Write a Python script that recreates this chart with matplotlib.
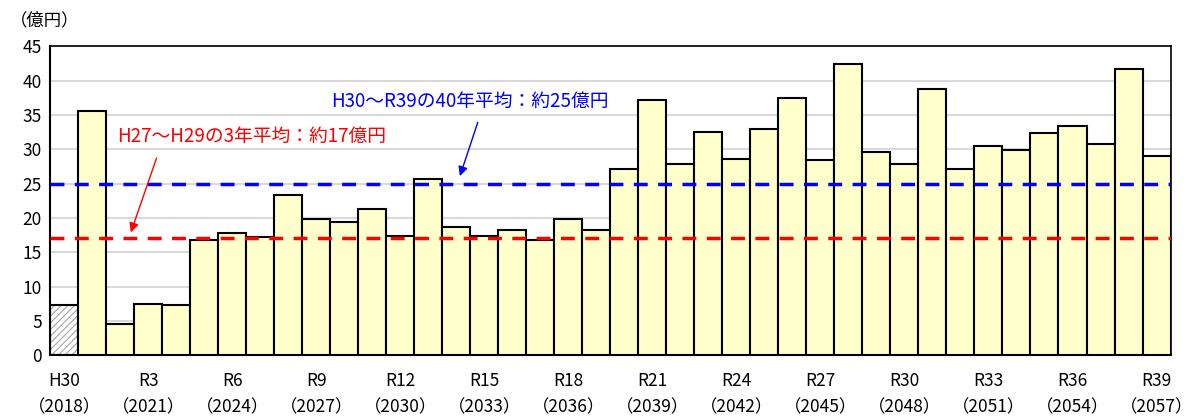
import matplotlib.pyplot as plt
import numpy as np

plt.rcParams["font.family"] = ["Noto Sans CJK JP", "DejaVu Sans"]
plt.rcParams["hatch.linewidth"] = 0.8

# 年度ラベル（3年おき）
era_labels = [
    "H30", "R3", "R6", "R9", "R12", "R15", "R18",
    "R21", "R24", "R27", "R30", "R33", "R36", "R39"
]
year_labels = [
    "2018", "2021", "2024", "2027", "2030", "2033", "2036",
    "2039", "2042", "2045", "2048", "2051", "2054", "2057"
]

# 実績（H30）
actual_values = [7.3]

# 見込み（R1〜R39）
forecast_values = [
    35.5, 4.6, 7.5, 7.3, 16.8, 17.8, 17.2, 23.4, 19.8, 19.4,
    21.3, 17.4, 25.6, 18.7, 17.4, 18.3, 16.8, 19.8, 18.3, 27.1,
    37.2, 27.9, 32.5, 28.6, 32.9, 37.4, 28.4, 42.4, 29.6, 27.9,
    38.7, 27.1, 30.4, 29.9, 32.3, 33.4, 30.8, 41.7, 29.0
]

avg_40 = 25
avg_3 = 17

label_40 = "H30～R39の40年平均：約25億円"
label_3 = "H27～H29の3年平均：約17億円"


fig = plt.figure(
    figsize=(11.92, 4.16),
    dpi=100
)
ax = fig.add_axes([0.042, 0.146, 0.940, 0.743])

n_actual = len(actual_values)
x_actual = np.arange(n_actual)
x_forecast = np.arange(n_actual, n_actual + len(forecast_values))

ax.bar(
    x_actual,
    actual_values,
    width=1.0,
    color="white",
    edgecolor="#A6A6A6",
    hatch="/////",
    linewidth=0,
    zorder=2
)
ax.bar(
    x_actual,
    actual_values,
    width=1.0,
    color="none",
    edgecolor="black",
    linewidth=1.5,
    zorder=3
)
ax.bar(
    x_forecast,
    forecast_values,
    width=1.0,
    color="#FFFFCC",
    edgecolor="black",
    linewidth=1.5,
    zorder=3
)

ax.axhline(avg_40, color="#0000FF", lw=2.5, ls=(0, (4, 3)), zorder=4)
ax.axhline(avg_3, color="#FF0000", lw=2.5, ls=(0, (4, 3)), zorder=4)

ax.annotate(
    label_40,
    xy=(14.1, 25.7),
    xytext=(14.5, 37.0),
    color="#0000FF",
    fontsize=13.5,
    ha="center",
    va="center",
    arrowprops=dict(
        arrowstyle="-|>",
        color="#0000FF",
        lw=1,
        mutation_scale=14,
        shrinkA=6,
        relpos=(0.54, 0)
    ),
    zorder=5
)
ax.annotate(
    label_3,
    xy=(2.35, 17.5),
    xytext=(6.7, 31.8),
    color="#FF0000",
    fontsize=13.5,
    ha="center",
    va="center",
    arrowprops=dict(
        arrowstyle="-|>",
        color="#FF0000",
        lw=1,
        mutation_scale=14,
        shrinkA=6,
        relpos=(0.16, 0)
    ),
    zorder=5
)

ax.set_xlim(-0.5, n_actual + len(forecast_values) - 0.5)
ax.set_ylim(0, 45)
ax.set_yticks(np.arange(0, 46, 5))
ax.yaxis.grid(True, color="#D9D9D9", lw=1.5, zorder=0)
ax.set_axisbelow(True)

tick_pos = np.arange(0, n_actual + len(forecast_values), 3)
ax.set_xticks(tick_pos)
ax.set_xticklabels(
    [f"{e}\n（{y}）" for e, y in zip(era_labels, year_labels)],
    fontsize=12.5,
    linespacing=1.6
)
ax.tick_params(axis="y", labelsize=12.5, length=0, pad=6)
ax.tick_params(axis="x", length=0, pad=12)

for side in ["top", "right", "left", "bottom"]:
    ax.spines[side].set_color("black")
ax.spines["top"].set_linewidth(1.2)
ax.spines["right"].set_linewidth(1.2)
ax.spines["left"].set_linewidth(1.5)
ax.spines["bottom"].set_linewidth(1.5)

fig.text(0.008, 0.95, "（億円）", fontsize=12.5, va="center", ha="left")

fig.savefig("out.png", dpi=100)
